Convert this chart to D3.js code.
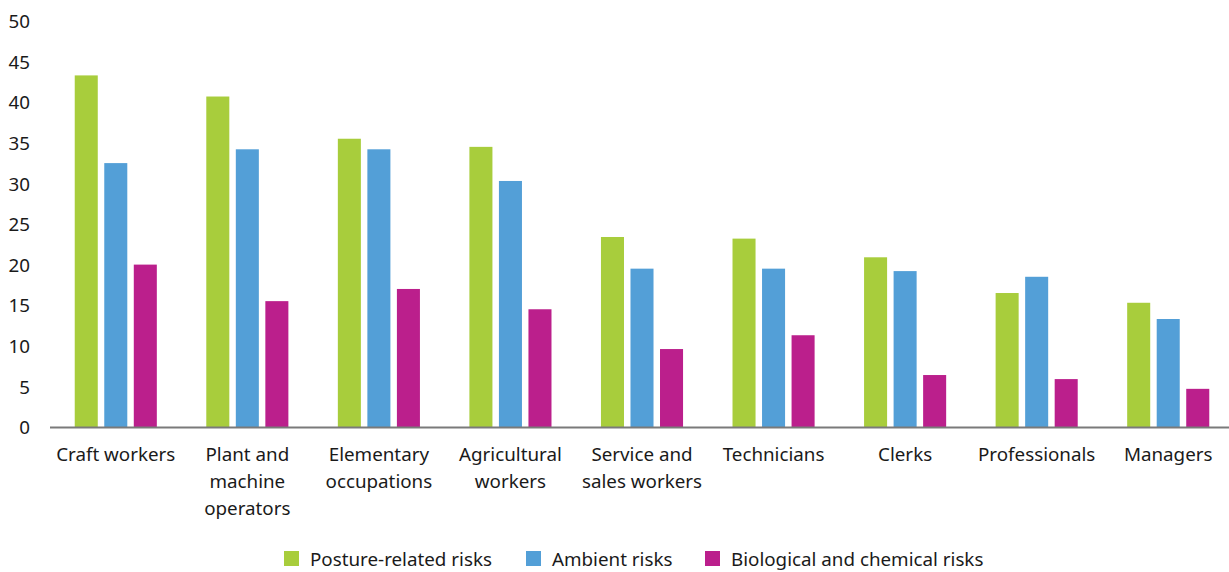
<!DOCTYPE html>
<html>
<head>
<meta charset="utf-8">
<script src="https://cdn.jsdelivr.net/npm/d3@7"></script>
<style>
  body { margin: 0; background: #fff; }
  svg text { font-family: "Noto Sans", sans-serif; fill: #1a1a1a; }
</style>
</head>
<body>
<div id="chart"></div>
<script>
// occupation groups, left to right
const categories = [
    ["Craft workers"],
    ["Plant and", "machine", "operators"],
    ["Elementary", "occupations"],
    ["Agricultural", "workers"],
    ["Service and", "sales workers"],
    ["Technicians"],
    ["Clerks"],
    ["Professionals"],
    ["Managers"]
];

const seriesNames = ["Posture-related risks", "Ambient risks", "Biological and chemical risks"];

const postureRisks = [43.3, 40.7, 35.5, 34.5, 23.4, 23.2, 20.9, 16.5, 15.3];
const ambientRisks = [32.5, 34.2, 34.2, 30.3, 19.5, 19.5, 19.2, 18.5, 13.3];
const bioChemRisks = [20.0, 15.5, 17.0, 14.5, 9.6, 11.3, 6.4, 5.9, 4.7];

const yTicks = [0, 5, 10, 15, 20, 25, 30, 35, 40, 45, 50];

const colors = ["#a8cd3c", "#539fd7", "#bb1f8c"];

let width = 1229, height = 572;
let fontSize = 18.8;

let svg = d3.select("#chart").append("svg")
    .attr("width", width)
    .attr("height", height);

let catKeys = categories.map(c => c.join(" "));

let x0 = d3.scaleBand()
    .domain(catKeys)
    .range([50, 1234])
    .paddingInner(0.376)
    .paddingOuter(0.188);

let x1 = d3.scaleBand()
    .domain(seriesNames)
    .range([0, x0.bandwidth()])
    .paddingInner(0.22)
    .paddingOuter(0);

let y = d3.scaleLinear()
    .domain([0, 50])
    .range([427, 21]);

// y axis labels (no axis line)
let yAxis = svg.append("g")
    .attr("transform", "translate(30,0)")
    .call(d3.axisLeft(y).tickValues(yTicks).tickSize(0).tickPadding(0));
yAxis.select(".domain").remove();
yAxis.selectAll("text")
    .attr("font-size", fontSize)
    .attr("text-anchor", "end")
    .attr("dy", "0.36em");

let table = catKeys.map((k, i) => ({
    key: k,
    values: [postureRisks[i], ambientRisks[i], bioChemRisks[i]]
}));

let groups = svg.selectAll(".group")
    .data(table)
    .enter().append("g")
    .attr("class", "group")
    .attr("transform", d => "translate(" + x0(d.key) + ",0)");

groups.selectAll("rect")
    .data(d => d.values.map((v, j) => ({name: seriesNames[j], value: v, j: j})))
    .enter().append("rect")
    .attr("x", d => x1(d.name))
    .attr("y", d => y(d.value))
    .attr("width", x1.bandwidth())
    .attr("height", d => y(0) - y(d.value))
    .attr("fill", d => colors[d.j]);

// baseline
svg.append("line")
    .attr("x1", 50)
    .attr("x2", width)
    .attr("y1", y(0) + 0.5)
    .attr("y2", y(0) + 0.5)
    .attr("stroke", "#7a7a7a")
    .attr("stroke-width", 2);

// category labels, one tspan per line
let labels = svg.selectAll(".cat-label")
    .data(categories)
    .enter().append("text")
    .attr("class", "cat-label")
    .attr("text-anchor", "middle")
    .attr("font-size", fontSize)
    .attr("x", (d, i) => x0(catKeys[i]) + x0.bandwidth() / 2)
    .attr("y", 461);

labels.selectAll("tspan")
    .data((d, i) => d.map(line => ({line: line, x: x0(catKeys[i]) + x0.bandwidth() / 2})))
    .enter().append("tspan")
    .attr("x", d => d.x)
    .attr("dy", (d, i) => i === 0 ? 0 : 27)
    .text(d => d.line);

// legend
let legendX = [284, 526, 705];
let legend = svg.selectAll(".legend")
    .data(seriesNames)
    .enter().append("g")
    .attr("class", "legend")
    .attr("transform", (d, i) => "translate(" + legendX[i] + ",551)");

legend.append("rect")
    .attr("width", 15)
    .attr("height", 15)
    .attr("fill", (d, i) => colors[i]);

legend.append("text")
    .attr("x", 26)
    .attr("y", 8)
    .attr("dy", "0.36em")
    .attr("font-size", fontSize)
    .text(d => d);
</script>
</body>
</html>
